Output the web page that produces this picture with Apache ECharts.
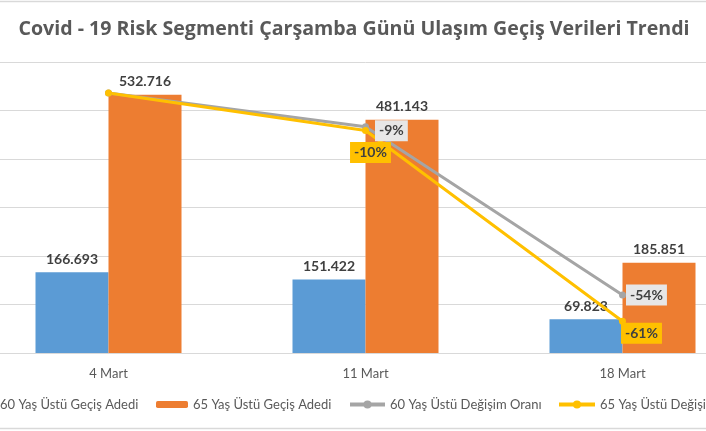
<!DOCTYPE html>
<html>
<head>
<meta charset="utf-8">
<script src="https://cdn.jsdelivr.net/npm/echarts@6/dist/echarts.min.js"></script>
<style>
html,body{margin:0;padding:0;background:#fff;overflow:hidden;width:706px;height:431px;}
#chart{position:absolute;left:-66px;top:0;width:840px;height:431px;}
</style>
</head>
<body>
<div id="chart"></div>
<script>
const titleText = 'Covid - 19 Risk Segmenti Çarşamba Günü Ulaşım Geçiş Verileri Trendi';
const categories = ['4 Mart', '11 Mart', '18 Mart'];
const seriesNames = ['60 Yaş Üstü Geçiş Adedi', '65 Yaş Üstü Geçiş Adedi', '60 Yaş Üstü Değişim Oranı', '65 Yaş Üstü Değişim Oranı'];
const gecis60 = [166693, 151422, 69823];
const gecis65 = [532716, 481143, 185851];
const oran60 = [0, -9, -54];
const oran65 = [0, -10, -61];
const yTicksMax = 600000;
const yTickStep = 100000;

const FONT = 'Lato, "Open Sans", sans-serif';
const fmtNum = v => String(v).replace(/\B(?=(\d{3})+(?!\d))/g, '.');

const gray60Offsets = [[0,0],[1,4],[-5,0]];
const yel65Offsets = [[0,0],[5,3],[19,-7]];

const chart = echarts.init(document.getElementById('chart'));
const legendBase = {
  orient: 'horizontal', top: 393, itemGap: 0,
  textStyle: {color: '#595959', fontSize: 13, fontFamily: FONT}
};
chart.setOption({
  backgroundColor: '#ffffff',
  animation: false,
  title: {
    text: titleText, left: 'center', top: 19, padding: 0,
    textStyle: {color: '#595959', fontSize: 19.6, fontWeight: 'bold', fontFamily: '"Open Sans", sans-serif'}
  },
  legend: [
    Object.assign({}, legendBase, {left: 66 - 42, data: [seriesNames[0]], itemWidth: 32, itemHeight: 7}),
    Object.assign({}, legendBase, {left: 66 + 151, data: [seriesNames[1]], itemWidth: 32, itemHeight: 7}),
    Object.assign({}, legendBase, {left: 66 + 343, data: [seriesNames[2]], itemWidth: 35, itemHeight: 10,
      lineStyle: {width: 4}}),
    Object.assign({}, legendBase, {left: 66 + 552, data: [seriesNames[3]], itemWidth: 36, itemHeight: 10,
      lineStyle: {width: 4}})
  ],
  graphic: [
    {type: 'line', shape: {x1: 0, y1: 1.5, x2: 840, y2: 1.5}, style: {stroke: '#d9d9d9', lineWidth: 1.5}},
    {type: 'line', shape: {x1: 0, y1: 428.5, x2: 840, y2: 428.5}, style: {stroke: '#d9d9d9', lineWidth: 1.5}}
  ],
  grid: {left: 46, right: 23, top: 62, bottom: 78, containLabel: false},
  xAxis: {
    type: 'category', data: categories,
    axisLine: {lineStyle: {color: '#d9d9d9', width: 1}},
    axisTick: {show: false},
    axisLabel: {color: '#595959', fontSize: 13, fontFamily: FONT, margin: 14}
  },
  yAxis: [
    {type: 'value', min: 0, max: yTicksMax, interval: yTickStep,
     axisLabel: {show: false}, axisLine: {show: false}, axisTick: {show: false},
     splitLine: {lineStyle: {color: '#d9d9d9', width: 1}}},
    {type: 'value', min: -69.5, max: 8.3, show: false, splitLine: {show: false}}
  ],
  series: [
    {name: seriesNames[0], type: 'bar', data: gecis60, barWidth: 73, barGap: '0%',
     itemStyle: {color: '#5b9bd5'},
     label: {show: true, position: 'top', distance: 6, formatter: p => fmtNum(p.value),
             color: '#404040', fontSize: 14, fontWeight: 'bold', fontFamily: FONT}},
    {name: seriesNames[1], type: 'bar', data: gecis65, barWidth: 73, barGap: '0%',
     itemStyle: {color: '#ed7d31'},
     label: {show: true, position: 'top', distance: 6, formatter: p => fmtNum(p.value),
             color: '#404040', fontSize: 14, fontWeight: 'bold', fontFamily: FONT}},
    {name: seriesNames[2], type: 'line', yAxisIndex: 1,
     data: oran60.map((v, i) => ({value: v, label: {show: i > 0, offset: gray60Offsets[i]}})),
     symbol: 'circle', symbolSize: 7,
     lineStyle: {color: '#a5a5a5', width: 3}, itemStyle: {color: '#a5a5a5'},
     label: {position: 'right', distance: 5, formatter: p => p.value + '%',
             color: '#404040', fontSize: 14, fontWeight: 'bold', fontFamily: FONT,
             backgroundColor: '#e7e6e6', padding: [4, 4, 3, 4]}},
    {name: seriesNames[3], type: 'line', yAxisIndex: 1,
     data: oran65.map((v, i) => ({value: v, label: {show: i > 0, offset: yel65Offsets[i]}})),
     symbol: 'circle', symbolSize: 7,
     lineStyle: {color: '#ffc000', width: 3}, itemStyle: {color: '#ffc000'},
     label: {position: 'bottom', distance: 5, formatter: p => p.value + '%',
             color: '#404040', fontSize: 14, fontWeight: 'bold', fontFamily: FONT,
             backgroundColor: '#ffc000', padding: [4, 4, 3, 4]}}
  ]
});
</script>
</body>
</html>
